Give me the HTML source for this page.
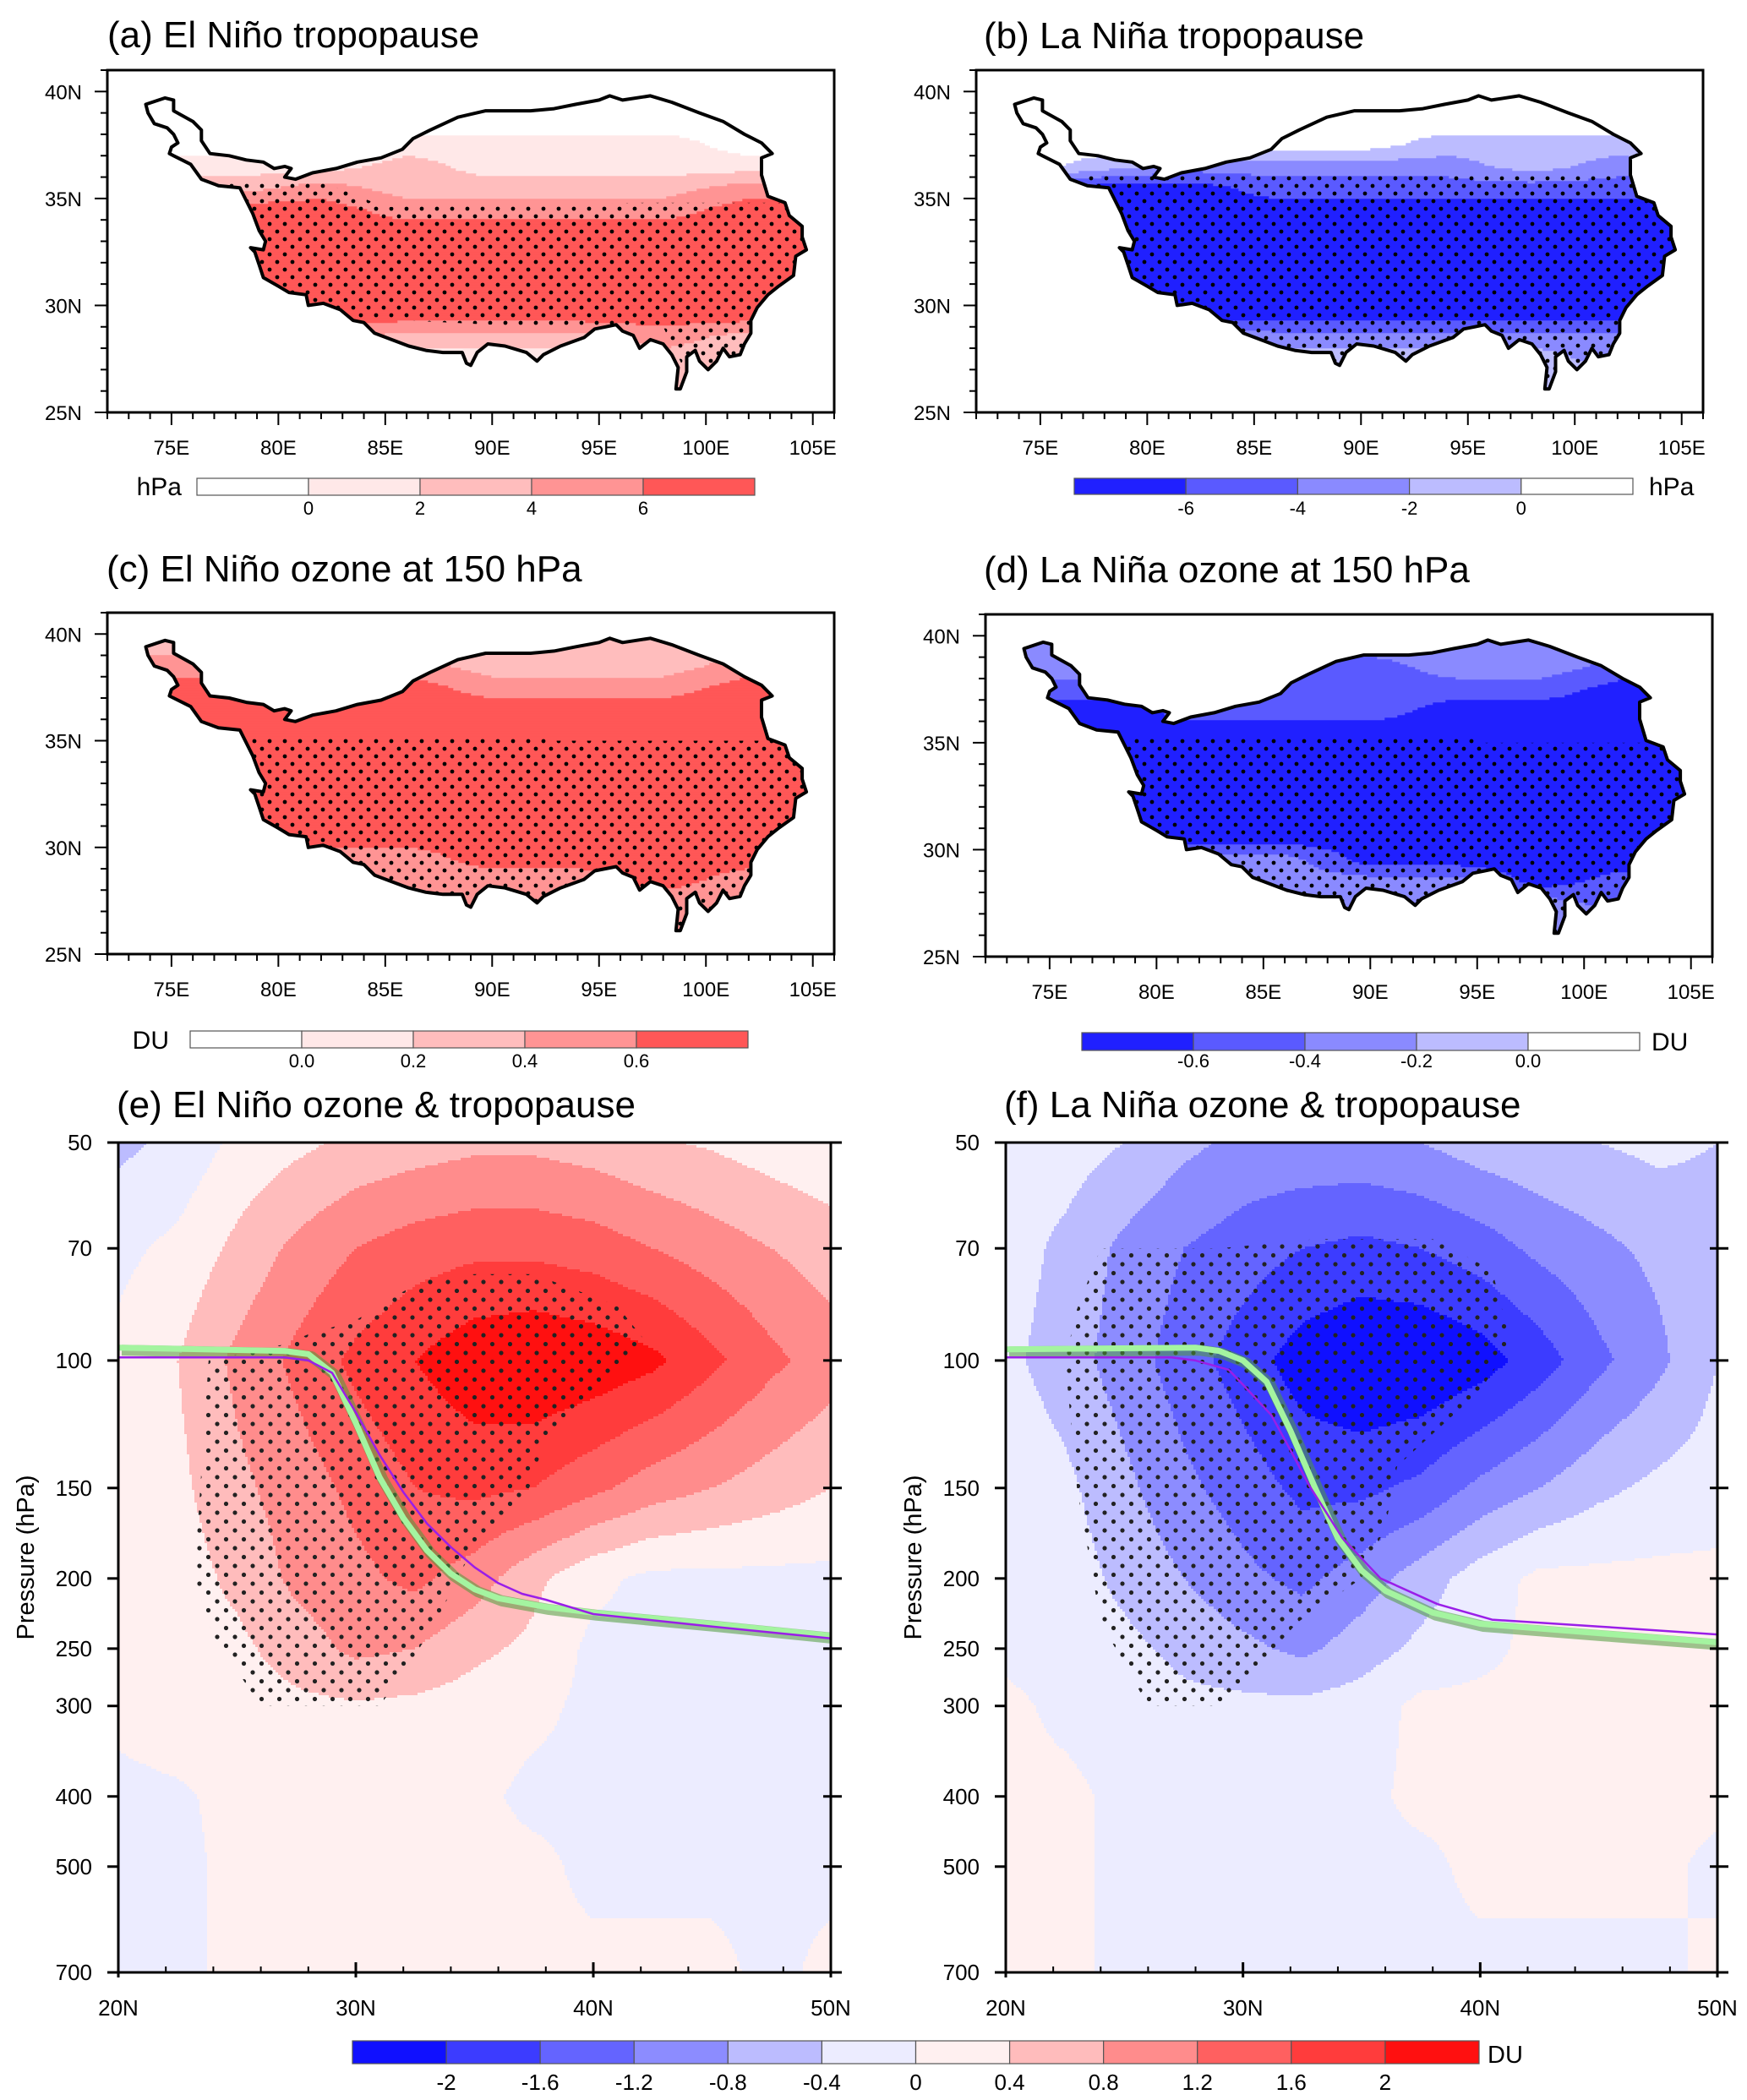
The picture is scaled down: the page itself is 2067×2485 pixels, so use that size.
<!DOCTYPE html>
<html><head><meta charset="utf-8">
<style>
html,body{margin:0;padding:0;background:#fff;}
svg{display:block;}
text{font-family:"Liberation Sans",sans-serif;fill:#000;}
</style></head>
<body>
<svg id="chart" xmlns="http://www.w3.org/2000/svg" width="2067" height="2485" viewBox="0 0 2067 2485">
<defs id="defs">
<pattern id="mapdots" patternUnits="userSpaceOnUse" width="18" height="18"><circle cx="4" cy="4" r="2.4" fill="#000"/><circle cx="13" cy="13" r="2.4" fill="#000"/></pattern>
<pattern id="xsdots" patternUnits="userSpaceOnUse" width="21" height="21"><circle cx="5" cy="5" r="2.6" fill="#222"/><circle cx="15.5" cy="15.5" r="2.6" fill="#222"/></pattern>
</defs>
</svg>
<script>
// ---------- DATA ----------
const mapLats = [40.5,39.5,38.5,37.5,36.5,35.5,34.5,33.5,32.5,31.5,30.5,29.5,28.5,27.5,26.5];
const mapLons = [74,78,82,86,90,94,98,102,106];
const valsA = [
 [-1,-1,-1,-1,-1,-1,-1,-1,-1],
 [-1,-1,-1,-1,-1,-1,-1,-1,-1],
 [-1,-1,-1,-1,-1,-1,-1,-1,-1],
 [-1,-1,-1,1,1,1,1,-1,-1],
 [1,1,1,3,1,1,1,1,1],
 [3,3,5,3,3,3,3,5,5],
 [7,7,7,5,5,5,5,7,7],
 [7,7,7,7,7,7,7,7,7],
 [7,7,7,7,7,7,7,7,7],
 [7,7,7,7,7,7,7,7,7],
 [7,7,7,7,7,7,7,7,7],
 [7,7,7,7,7,7,7,7,7],
 [5,5,5,3,3,3,5,3,3],
 [1,1,1,1,1,1,3,3,3],
 [1,1,1,1,1,1,3,3,3]];
const valsB = [
 [1,1,1,1,1,1,1,1,1],
 [1,1,1,1,1,1,1,1,1],
 [1,1,1,1,1,1,1,1,1],
 [1,1,1,1,1,-1,-1,-1,1],
 [1,-1,-3,-3,-3,-3,-1,-3,-3],
 [-5,-7,-7,-5,-5,-5,-5,-5,-5],
 [-7,-7,-7,-7,-7,-7,-7,-7,-7],
 [-7,-7,-7,-7,-7,-7,-7,-7,-7],
 [-7,-7,-7,-7,-7,-7,-7,-7,-7],
 [-7,-7,-7,-7,-7,-7,-7,-7,-7],
 [-7,-7,-7,-7,-7,-7,-7,-7,-7],
 [-7,-7,-7,-7,-7,-7,-7,-7,-7],
 [-1,-1,-1,-3,-3,-3,-3,-3,-3],
 [-1,-1,-1,-1,-1,-1,-1,-3,-3],
 [-1,-1,-1,-1,-1,-1,-1,-1,-1]];
const valsC = [
 [0.3,0.3,0.3,0.3,0.3,0.3,0.3,0.3,0.3],
 [0.3,0.3,0.3,0.3,0.3,0.3,0.3,0.3,0.3],
 [0.5,0.5,0.5,0.5,0.3,0.3,0.3,0.5,0.5],
 [0.7,0.7,0.7,0.7,0.5,0.5,0.5,0.7,0.7],
 [0.7,0.7,0.7,0.7,0.7,0.7,0.7,0.7,0.7],
 [0.7,0.7,0.7,0.7,0.7,0.7,0.7,0.7,0.7],
 [0.7,0.7,0.7,0.7,0.7,0.7,0.7,0.7,0.7],
 [0.7,0.7,0.7,0.7,0.7,0.7,0.7,0.7,0.7],
 [0.7,0.7,0.7,0.7,0.7,0.7,0.7,0.7,0.7],
 [0.7,0.7,0.7,0.7,0.7,0.7,0.7,0.7,0.7],
 [0.7,0.7,0.7,0.7,0.7,0.7,0.7,0.7,0.7],
 [0.7,0.7,0.5,0.5,0.7,0.7,0.7,0.7,0.7],
 [0.5,0.5,0.5,0.5,0.5,0.5,0.7,0.5,0.5],
 [0.5,0.5,0.5,0.5,0.5,0.5,0.5,0.5,0.5],
 [0.5,0.5,0.5,0.5,0.5,0.5,0.5,0.5,0.5]];
const valsD = [
 [-0.3,-0.3,-0.3,-0.3,-0.3,-0.3,-0.3,-0.3,-0.3],
 [-0.3,-0.3,-0.3,-0.3,-0.3,-0.3,-0.3,-0.3,-0.3],
 [-0.3,-0.3,-0.5,-0.5,-0.5,-0.3,-0.3,-0.5,-0.5],
 [-0.5,-0.5,-0.5,-0.5,-0.5,-0.5,-0.5,-0.7,-0.7],
 [-0.7,-0.7,-0.5,-0.5,-0.5,-0.7,-0.7,-0.7,-0.7],
 [-0.7,-0.7,-0.7,-0.7,-0.7,-0.7,-0.7,-0.7,-0.7],
 [-0.7,-0.7,-0.7,-0.7,-0.7,-0.7,-0.7,-0.7,-0.7],
 [-0.7,-0.7,-0.7,-0.7,-0.7,-0.7,-0.7,-0.7,-0.7],
 [-0.7,-0.7,-0.7,-0.7,-0.7,-0.7,-0.7,-0.7,-0.7],
 [-0.7,-0.7,-0.7,-0.7,-0.7,-0.7,-0.7,-0.7,-0.7],
 [-0.7,-0.7,-0.7,-0.7,-0.7,-0.7,-0.7,-0.7,-0.7],
 [-0.7,-0.7,-0.3,-0.3,-0.7,-0.7,-0.7,-0.7,-0.7],
 [-0.3,-0.3,-0.3,-0.3,-0.3,-0.3,-0.7,-0.5,-0.5],
 [-0.3,-0.3,-0.3,-0.3,-0.3,-0.3,-0.3,-0.5,-0.5],
 [-0.3,-0.3,-0.3,-0.3,-0.3,-0.3,-0.3,-0.3,-0.3]];
const boundsA = [0,2,4,6], labelsA = ["0","2","4","6"];
const boundsB = [-6,-4,-2,0], labelsB = ["-6","-4","-2","0"];
const boundsC = [0,0.2,0.4,0.6], labelsC = ["0.0","0.2","0.4","0.6"];
const boundsD = [-0.6,-0.4,-0.2,0], labelsD = ["-0.6","-0.4","-0.2","0.0"];
const redColors = ["#ffffff","#ffe8e8","#ffbdbd","#ff9494","#ff5757"];
const blueColors = ["#2020ff","#5a5aff","#8a8aff","#bcbcff","#ffffff"];
const stipA = [[77,35.8],[82,35.8],[85,34.6],[97,34.8],[102,34.8],[106,34.8],[106,27],[99,27],[98,29],[92,29],[86,29.3],[77,29.5]];
const stipB = [[77,36.2],[106,36.2],[106,26],[77,26]];
const stipC = [[77,35.2],[93,35.2],[93,35],[106,35],[106,26],[77,26]];
const stipD = [[77,35.2],[95,35.2],[95,35],[106,35],[106,26],[77,26]];
const plateauLon = [73.8,74.7,75.1,75.1,76.0,76.4,76.4,76.8,77.7,78.5,79.3,79.8,80.3,80.6,80.3,80.8,81.6,82.7,83.7,84.8,85.8,86.3,87.1,88.4,89.7,91.8,92.9,93.9,95.0,95.5,96.1,97.4,98.4,99.7,100.8,101.8,102.6,103.1,102.6,102.6,102.9,103.7,103.9,104.5,104.5,104.7,104.2,104.1,103.4,102.9,102.4,102.1,102.1,101.8,101.6,101.1,100.8,100.5,100.1,99.7,99.5,99.1,99.1,98.8,98.6,98.7,98.4,98.0,97.4,96.9,96.6,96.1,95.8,95.3,94.8,94.3,93.2,92.4,92.1,91.6,90.6,89.8,89.3,89.0,88.8,88.6,87.7,86.9,86.1,85.3,84.5,84.0,83.5,82.9,82.1,81.4,81.3,80.5,80.0,79.3,79.1,78.9,78.7,79.3,79.4,79.1,78.8,78.5,78.2,77.2,76.4,75.9,75.1,74.9,75.0,75.3,75.1,74.8,74.2,73.9,73.8];
const plateauLat = [39.4,39.7,39.6,39.1,38.6,38.2,37.7,37.1,37.0,36.8,36.7,36.4,36.5,36.4,36.0,35.9,36.2,36.4,36.7,36.9,37.3,37.8,38.2,38.8,39.1,39.1,39.2,39.4,39.6,39.8,39.6,39.8,39.5,39.0,38.6,38.0,37.6,37.1,36.9,36.1,35.1,34.8,34.2,33.7,33.2,32.6,32.3,31.4,30.9,30.5,29.9,29.3,28.7,28.2,27.7,27.6,28.0,27.4,27.0,27.4,27.9,27.6,26.9,26.1,26.1,27.1,27.7,28.2,28.4,28.0,28.6,28.8,29.1,29.0,28.9,28.5,28.1,27.7,27.4,27.8,28.1,28.2,27.8,27.2,27.3,27.8,27.8,27.9,28.1,28.4,28.7,29.2,29.3,29.8,30.1,30.0,30.5,30.6,30.9,31.3,31.9,32.5,32.7,32.6,33.0,33.5,34.3,34.9,35.5,35.6,35.9,36.6,37.0,37.1,37.4,37.6,38.0,38.3,38.5,39.0,39.4];

const xsLats = [20,22.5,25,27.5,30,32.5,35,37.5,40,42.5,45,47.5,50];
const xsPres = [50,70,100,150,200,250,300,400,500,700];
const ozoneE = [
 [-0.5,-0.3,0.1,0.3,0.5,0.6,0.7,0.7,0.6,0.45,0.35,0.2,0.1],
 [-0.1,0.1,0.5,0.9,1.2,1.4,1.5,1.5,1.4,1.2,1.0,0.8,0.6],
 [0.1,0.4,0.9,1.3,1.7,2.0,2.3,2.4,2.3,2.1,1.7,1.3,1.0],
 [0.1,0.3,0.7,1.0,1.3,1.6,1.7,1.6,1.3,1.0,0.8,0.6,0.4],
 [0.1,0.2,0.5,0.9,1.1,1.3,1.0,0.5,0.1,-0.1,-0.1,-0.1,-0.1],
 [0.1,0.2,0.3,0.6,0.9,0.8,0.5,0.3,-0.1,-0.1,-0.1,-0.1,-0.1],
 [0.1,0.2,0.2,0.3,0.35,0.3,0.2,0.1,-0.1,-0.1,-0.1,-0.1,-0.1],
 [-0.1,-0.05,0.1,0.15,0.15,0.1,0.1,-0.1,-0.1,-0.1,-0.1,-0.1,-0.1],
 [-0.1,-0.1,0.1,0.1,0.1,0.1,0.1,0.1,-0.1,-0.1,-0.1,-0.1,-0.1],
 [-0.1,-0.1,0.1,0.1,0.1,0.1,0.1,0.1,0.1,0.1,0.1,-0.1,0.1]];
const ozoneF = [
 [-0.2,-0.2,-0.4,-0.7,-0.9,-0.9,-0.9,-0.8,-0.6,-0.5,-0.4,-0.3,-0.4],
 [-0.2,-0.5,-0.9,-1.2,-1.4,-1.6,-1.7,-1.6,-1.4,-1.1,-0.9,-0.7,-0.6],
 [-0.3,-0.6,-1.0,-1.4,-1.8,-2.2,-2.4,-2.4,-2.2,-1.8,-1.3,-0.9,-0.4],
 [-0.1,-0.3,-0.7,-1.1,-1.4,-1.7,-1.7,-1.5,-1.1,-0.8,-0.5,-0.3,-0.2],
 [-0.1,-0.2,-0.5,-0.8,-1.1,-1.3,-1.0,-0.6,-0.2,0.1,0.1,0.1,0.1],
 [-0.1,-0.2,-0.3,-0.5,-0.7,-0.9,-0.6,-0.3,-0.1,0.1,0.1,0.1,0.1],
 [0.1,-0.1,-0.2,-0.3,-0.3,-0.3,-0.2,0.1,0.1,0.1,0.1,0.1,0.1],
 [0.1,0.1,-0.1,-0.1,-0.1,-0.1,-0.1,0.1,0.1,0.1,0.1,0.1,0.1],
 [0.1,0.1,-0.1,-0.1,-0.1,-0.1,-0.1,-0.1,0.1,0.1,0.1,0.1,-0.1],
 [0.1,0.1,-0.1,-0.1,-0.1,-0.1,-0.1,-0.1,-0.1,-0.1,-0.1,-0.1,0.1]];
const xsBounds = [-2,-1.6,-1.2,-0.8,-0.4,0,0.4,0.8,1.2,1.6,2];
const xsLabels = ["-2","-1.6","-1.2","-0.8","-0.4","0","0.4","0.8","1.2","1.6","2"];
const xsColors = ["#1010ff","#3c3cff","#6464ff","#8c8cff","#bcbcff","#ececff","#fff0f0","#ffbcbc","#ff8c8c","#ff6060","#ff3c3c","#ff1010"];
const tropGreenLatE = [20,27,28,29,30,31,32,33,34,35,36,38,40,45,50];
const tropGreenPE = [96,97,98,104,122,145,165,183,197,207,213,219,223,231,240];
const tropPurpleLatE = [20,27,28,29,30,31,32,33,34,35,36,37,38,40,45,50];
const tropPurplePE = [99,99,100,104,118,135,152,168,181,193,203,210,214,224,233,242];
const tropGreenLatF = [20,28,29,30,31,32,33,34,35,36,38,40,45,50];
const tropGreenPF = [96.5,96,97,100,107,125,149,176,195,208,223,231,238,245];
const tropPurpleLatF = [20,27,28,29.4,30,31.2,32,32.8,34.2,35.8,38.2,40.5,45,50];
const tropPurplePF = [99,99,100,103,108,119,133,149,176,200,217,228,233,239];
const stipE = [[23.2,200],[23.8,100],[27,95],[28,92],[30,88],[31.5,82],[33,77],[35,76],[37.5,76],[41,84],[42.3,95],[38,128],[37.3,150],[35,180],[33.5,225],[32.3,262],[31,300],[26,300],[24,240]];
const stipF = [[22.5,100],[23,85],[24,70],[29,70],[33,68],[38,68],[40.5,75],[41.3,95],[40,110],[36.5,140],[36,170],[35,200],[32.3,230],[30.5,268],[29.3,300],[26,300],[24,230],[23,150]];
const pTicks = [50,70,100,150,200,250,300,400,500,700];

// ---------- DRAWING ----------
const NS = "http://www.w3.org/2000/svg";
const svg = document.getElementById('chart');
const defs = document.getElementById('defs');
function mk(tag, attrs, parent){
  const e = document.createElementNS(NS, tag);
  for (const k in attrs) e.setAttribute(k, attrs[k]);
  (parent || svg).appendChild(e);
  return e;
}
function txt(s, attrs, parent){ const t = mk('text', attrs, parent); t.textContent = s; return t; }
function levelOf(v, bounds){ let i = 0; while (i < bounds.length && v >= bounds[i]) i++; return i; }
function interp1(arr, v){
  if (v <= arr[0]) return [0,0];
  if (v >= arr[arr.length-1]) return [arr.length-2,1];
  let i = 0; while (arr[i+1] < v) i++;
  return [i, (v-arr[i])/(arr[i+1]-arr[i])];
}
function bilinear(grid, rowAxis, colAxis, r, c){
  const [i,fr] = interp1(rowAxis, r), [j,fc] = interp1(colAxis, c);
  const a = grid[i][j], b = grid[i][j+1], d = grid[i+1][j], e = grid[i+1][j+1];
  return (a*(1-fc)+b*fc)*(1-fr) + (d*(1-fc)+e*fc)*fr;
}
// rasterise a field into merged horizontal runs
function rasterField(parent, x0, y0, x1, y1, valueAt, bounds, colors, skipWhite, cellName){
  const step = 3;
  for (let py = y0; py < y1; py += step){
    let runStart = x0, runLev = -1;
    const flush = (xe) => {
      if (runLev >= 0 && !(skipWhite && colors[runLev] === '#ffffff')){
        const r = mk('rect', {x:runStart, y:py, width:xe-runStart+0.6, height:step+0.6, fill:colors[runLev]}, parent);
        
        
      }
    };
    for (let px = x0; px < x1; px += step){
      const lev = levelOf(valueAt(px+step/2, py+step/2), bounds);
      if (lev !== runLev){ flush(px); runStart = px; runLev = lev; }
    }
    flush(x1);
  }
}

function drawMap(key, F, vals, bounds, colors, stip, title, titleX, titleY, cb){
  const [x0,y0,x1,y1] = F;
  const X = lon => x0 + (lon-72)/34*(x1-x0);
  const Y = lat => y0 + (41-lat)/16*(y1-y0);
  const g = mk('g', {});
  
  
  const t = txt(title, {x:titleX, y:titleY, 'font-size':44}, g);
  
  
  let d = '';
  for (let i=0;i<plateauLon.length;i++) d += (i?'L':'M') + X(plateauLon[i]).toFixed(1) + ',' + Y(plateauLat[i]).toFixed(1);
  d += 'Z';
  const cp = mk('clipPath', {id:'clip-'+key}, defs);
  mk('path', {d:d}, cp);
  const fill = mk('g', {'clip-path':'url(#clip-'+key+')'}, g);
  
  
  const latAsc = mapLats.slice().reverse();
  const gridAsc = vals.slice().reverse();
  rasterField(fill, X(73), Y(40.2), X(105.5), Y(25.8), (px,py)=>{
    const lat = 41 - (py-y0)/(y1-y0)*16;
    const lon = 72 + (px-x0)/(x1-x0)*34;
    return bilinear(gridAsc, latAsc, mapLons, lat, lon);
  }, bounds, colors, true, 'field-cell');
  let sd = '';
  stip.forEach((p,i)=>{ sd += (i?'L':'M') + X(p[0]).toFixed(1) + ',' + Y(p[1]).toFixed(1); });
  const st = mk('path', {d:sd+'Z', fill:'url(#mapdots)'}, fill);
  
  
  const ol = mk('path', {d:d, fill:'none', stroke:'#000', 'stroke-width':4, 'stroke-linejoin':'round'}, g);
  
  
  const fr = mk('rect', {x:x0, y:y0, width:x1-x0, height:y1-y0, fill:'none', stroke:'#000', 'stroke-width':3}, g);
  
  
  const ax = mk('g', {stroke:'#000', 'stroke-width':2}, g);
  
  
  for (let lat=25; lat<=41; lat++){
    const major = lat%5===0;
    mk('line', {x1:x0, x2:x0-(major?15:8), y1:Y(lat), y2:Y(lat)}, ax);
    if (major){
      const l = txt(lat+'N', {x:x0-30, y:Y(lat)+9, 'font-size':24, 'text-anchor':'end', stroke:'none'}, ax);
      
      
    }
  }
  for (let lon=72; lon<=106; lon++){
    const major = lon%5===0;
    mk('line', {x1:X(lon), x2:X(lon), y1:y1, y2:y1+(major?15:8)}, ax);
    if (major){
      const l = txt(lon+'E', {x:X(lon), y:y1+50, 'font-size':24, 'text-anchor':'middle', stroke:'none'}, ax);
      
      
    }
  }
  const cbg = mk('g', {}, g);
  
  
  const bw = (cb.x1-cb.x0)/colors.length;
  colors.forEach((c,i)=>{
    const r = mk('rect', {x:cb.x0+i*bw, y:cb.y0, width:bw, height:cb.y1-cb.y0, fill:c, stroke:'#555', 'stroke-width':1.2}, cbg);
    
    
  });
  cb.labels.forEach((s,i)=>{
    const l = txt(s, {x:cb.x0+(i+1)*bw, y:cb.ly, 'font-size':22, 'text-anchor':'middle'}, cbg);
    
    
  });
  const u = txt(cb.unit, {x:cb.ux, y:cb.uy, 'font-size':30, 'text-anchor':cb.uanchor}, cbg);
  
  
}

drawMap('a', [127,83,987,488], valsA, boundsA, redColors, stipA, '(a) El Niño tropopause', 127, 56,
  {x0:233,x1:893,y0:566,y1:586,labels:labelsA,ly:609,unit:'hPa',ux:215,uy:586,uanchor:'end'});
drawMap('b', [1155,83,2015,488], valsB, boundsB, blueColors, stipB, '(b) La Niña tropopause', 1164, 57,
  {x0:1271,x1:1932,y0:566,y1:585,labels:labelsB,ly:609,unit:'hPa',ux:1951,uy:586,uanchor:'start'});
drawMap('c', [127,725,987,1129], valsC, boundsC, redColors, stipC, '(c) El Niño ozone at 150 hPa', 126, 688,
  {x0:225,x1:885,y0:1220,y1:1240,labels:labelsC,ly:1263,unit:'DU',ux:200,uy:1241,uanchor:'end'});
drawMap('d', [1166,727,2026,1132], valsD, boundsD, blueColors, stipD, '(d) La Niña ozone at 150 hPa', 1164, 689,
  {x0:1280,x1:1940,y0:1222,y1:1243,labels:labelsD,ly:1263,unit:'DU',ux:1954,uy:1243,uanchor:'start'});

function drawXS(key, F, vals, title, titleX, greenLat, greenP, purpLat, purpP, stip, ylabX){
  const [x0,y0,x1,y1] = F;
  const X = lat => x0 + (lat-20)/30*(x1-x0);
  const lmin = Math.log10(50), lmax = Math.log10(700);
  const Y = p => y0 + (Math.log10(p)-lmin)/(lmax-lmin)*(y1-y0);
  const g = mk('g', {});
  
  
  const t = txt(title, {x:titleX, y:1322, 'font-size':44}, g);
  
  
  const cp = mk('clipPath', {id:'clip-'+key}, defs);
  mk('rect', {x:x0, y:y0, width:x1-x0, height:y1-y0}, cp);
  const fill = mk('g', {'clip-path':'url(#clip-'+key+')'}, g);
  
  
  const logP = xsPres.map(p=>Math.log10(p));
  rasterField(fill, x0, y0, x1, y1, (px,py)=>{
    const lp = lmin + (py-y0)/(y1-y0)*(lmax-lmin);
    const lat = 20 + (px-x0)/(x1-x0)*30;
    return bilinear(vals, logP, xsLats, lp, lat);
  }, xsBounds, xsColors, false, 'ozone-cell');
  let sd = '';
  stip.forEach((p,i)=>{ sd += (i?'L':'M') + X(p[0]).toFixed(1) + ',' + Y(p[1]).toFixed(1); });
  const st = mk('path', {d:sd+'Z', fill:'url(#xsdots)'}, fill);
  
  
  const gp = greenLat.map((l,i)=>X(l).toFixed(1)+','+Y(greenP[i]).toFixed(1)).join(' ');
  const gs = mk('polyline', {points:gp, fill:'none', stroke:'#4f9a3a', 'stroke-opacity':0.55, 'stroke-width':13, 'stroke-linejoin':'round', transform:'translate(4,3)'}, fill);
  
  
  const gl = mk('polyline', {points:gp, fill:'none', stroke:'#a4f4a0', 'stroke-width':7, 'stroke-linejoin':'round'}, fill);
  
  
  const pp = purpLat.map((l,i)=>X(l).toFixed(1)+','+Y(purpP[i]).toFixed(1)).join(' ');
  const pl = mk('polyline', {points:pp, fill:'none', stroke:'#9a1ee8', 'stroke-width':2.5, 'stroke-linejoin':'round'}, fill);
  
  
  const fr = mk('rect', {x:x0, y:y0, width:x1-x0, height:y1-y0, fill:'none', stroke:'#000', 'stroke-width':3}, g);
  
  
  const ax = mk('g', {stroke:'#000', 'stroke-width':3}, g);
  
  
  pTicks.forEach(p=>{
    mk('line', {x1:x0-13, x2:x0, y1:Y(p), y2:Y(p)}, ax);
    mk('line', {x1:x1-9, x2:x1+13, y1:Y(p), y2:Y(p)}, ax);
    const l = txt(String(p), {x:x0-31, y:Y(p)+9, 'font-size':26, 'text-anchor':'end', stroke:'none'}, ax);
    
    
  });
  for (let lat=20; lat<=50; lat+=2){
    mk('line', {x1:X(lat), x2:X(lat), y1:y1, y2:y1-7, 'stroke-width':2}, ax);
  }
  [20,30,40,50].forEach(lat=>{
    mk('line', {x1:X(lat), x2:X(lat), y1:y1-12, y2:y1+6}, ax);
    const l = txt(lat+'N', {x:X(lat), y:2385, 'font-size':26, 'text-anchor':'middle', stroke:'none'}, ax);
    
    
  });
  const yl = txt('Pressure (hPa)', {x:ylabX, y:1843, 'font-size':29, 'text-anchor':'middle', transform:'rotate(-90 '+ylabX+' 1843)'}, g);
  
  
}
drawXS('e', [140,1352,983,2334], ozoneE, '(e) El Niño ozone & tropopause', 138,
  tropGreenLatE, tropGreenPE, tropPurpleLatE, tropPurplePE, stipE, 40);
drawXS('f', [1190,1352,2032,2334], ozoneF, '(f) La Niña ozone & tropopause', 1188,
  tropGreenLatF, tropGreenPF, tropPurpleLatF, tropPurplePF, stipF, 1090);

const cbg = mk('g', {});


const cbx0 = 417, cbx1 = 1750, cby0 = 2415, cby1 = 2442;
const cbw = (cbx1-cbx0)/xsColors.length;
xsColors.forEach((c,i)=>{
  const r = mk('rect', {x:cbx0+i*cbw, y:cby0, width:cbw, height:cby1-cby0, fill:c, stroke:'#555', 'stroke-width':1.2}, cbg);
  
  
});
xsLabels.forEach((s,i)=>{
  const l = txt(s, {x:cbx0+(i+1)*cbw, y:2473, 'font-size':26, 'text-anchor':'middle'}, cbg);
  
  
});
const du = txt('DU', {x:1760, y:2441, 'font-size':29}, cbg);


</script>
</body></html>
